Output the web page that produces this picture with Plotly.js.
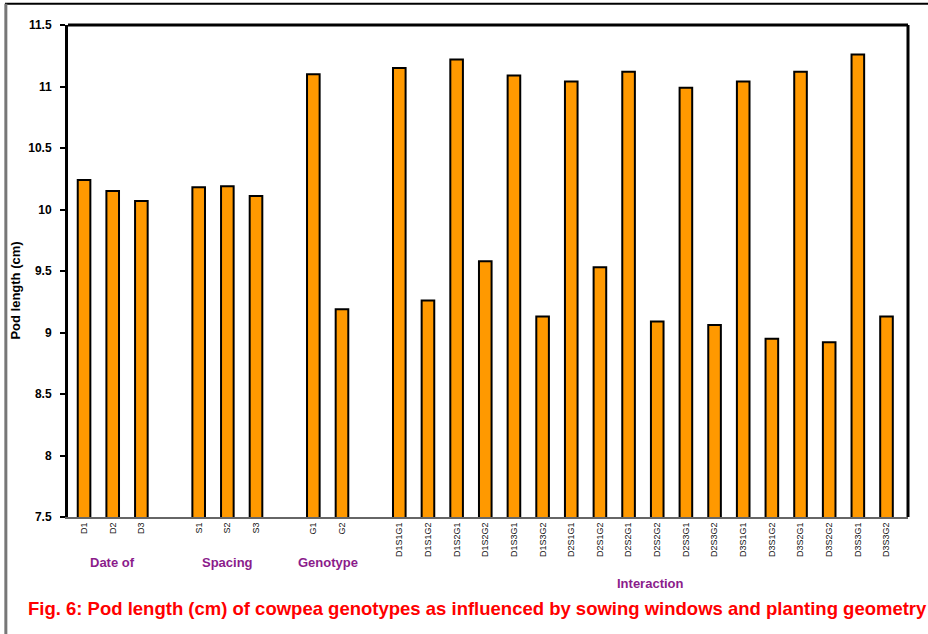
<!DOCTYPE html>
<html>
<head>
<meta charset="utf-8">
<script src="https://cdn.plot.ly/plotly-3.0.1.min.js"></script>
<style>html,body{margin:0;padding:0;background:#fff;}#chart{width:928px;height:634px;}</style>
</head>
<body>
<div id="chart"></div>
<script>
// ---- data ----
var dateLabels = ["D1", "D2", "D3"];
var dateValues = [10.24, 10.15, 10.07];
var spacingLabels = ["S1", "S2", "S3"];
var spacingValues = [10.18, 10.19, 10.11];
var genotypeLabels = ["G1", "G2"];
var genotypeValues = [11.10, 9.19];
var interactionLabels = ["D1S1G1", "D1S1G2", "D1S2G1", "D1S2G2", "D1S3G1", "D1S3G2",
                         "D2S1G1", "D2S1G2", "D2S2G1", "D2S2G2", "D2S3G1", "D2S3G2",
                         "D3S1G1", "D3S1G2", "D3S2G1", "D3S2G2", "D3S3G1", "D3S3G2"];
var interactionValues = [11.15, 9.26, 11.22, 9.58, 11.09, 9.13,
                         11.04, 9.53, 11.12, 9.09, 10.99, 9.06,
                         11.04, 8.95, 11.12, 8.92, 11.26, 9.13];
var groupNames = ["Date of", "Spacing", "Genotype", "Interaction"];
var yTicks = [7.5, 8, 8.5, 9, 9.5, 10, 10.5, 11, 11.5];
var titleText = "Fig. 6: Pod length (cm) of cowpea genotypes as influenced by sowing windows and planting geometry";

// ---- build positions (one empty slot between groups) ----
var groups = [[dateLabels, dateValues], [spacingLabels, spacingValues],
              [genotypeLabels, genotypeValues], [interactionLabels, interactionValues]];
var xs = [], ys = [], labels = [], centers = [];
var pos = 0;
groups.forEach(function (g, gi) {
  var start = pos;
  for (var i = 0; i < g[0].length; i++) {
    xs.push(pos); ys.push(g[1][i]); labels.push(g[0][i]); pos++;
  }
  centers.push((start + pos - 1) / 2);
  pos++;
});

var trace = {
  type: "bar", x: xs, y: ys, width: 0.44,
  marker: {color: "#FF9900", line: {color: "#000000", width: 2}},
  hoverinfo: "x+y"
};

var purple = "#8B1C8B";
var annots = [];
var groupY = [-0.092, -0.092, -0.092, -0.136];
groupNames.forEach(function (n, i) {
  annots.push({text: "<b>" + n + "</b>", x: centers[i] + (i === 3 ? 0.25 : 0), xref: "x",
               y: groupY[i], yref: "paper", showarrow: false, yanchor: "middle",
               font: {family: "Liberation Sans, Arial, sans-serif", size: 13, color: purple}});
});
annots.push({text: "<b>" + titleText + "</b>", x: 0.487, xref: "paper", y: -0.186, yref: "paper",
             showarrow: false, yanchor: "middle",
             font: {family: "Liberation Sans, Arial, sans-serif", size: 18.5, color: "#FF0000"}});
annots.push({text: "<b>Pod length (cm)</b>", x: -0.062, xref: "paper", y: 0.46, yref: "paper",
             showarrow: false, textangle: -90, xanchor: "center", yanchor: "middle",
             font: {family: "Liberation Sans, Arial, sans-serif", size: 13, color: "#000"}});

var layout = {
  width: 928, height: 634,
  margin: {l: 68, r: 20, t: 25, b: 117},
  paper_bgcolor: "#fff", plot_bgcolor: "#fff",
  showlegend: false,
  xaxis: {
    range: [-0.56, 28.75], tickmode: "array", tickvals: xs, ticktext: labels,
    tickangle: -90, showgrid: false, zeroline: false, ticks: "",
    showline: true, linecolor: "#666", linewidth: 2,
    tickfont: {family: "Liberation Sans, Arial, sans-serif", size: 9, color: "#111"}
  },
  yaxis: {
    range: [7.5, 11.5], tickmode: "array", tickvals: yTicks,
    ticktext: yTicks.map(function (v) { return v % 1 === 0 ? String(v) : v.toFixed(1); }),
    showgrid: false, zeroline: false, ticks: "outside", ticklen: 5, tickwidth: 2, tickcolor: "#000",
    ticklabelstandoff: 6,
    showline: true, linecolor: "#000", linewidth: 3,
    tickfont: {family: "Liberation Sans, Arial, sans-serif", size: 12, color: "#000", weight: "bold"}
  },
  annotations: annots,
  shapes: [
    {type: "line", xref: "paper", yref: "paper", x0: 0, x1: 1, y0: 1, y1: 1, line: {color: "#000", width: 3}},
    {type: "line", xref: "paper", yref: "paper", x0: 1, x1: 1, y0: 0, y1: 1, line: {color: "#000", width: 3}},
    {type: "line", xref: "paper", yref: "paper", x0: -0.075, x1: 1.03, y0: 1.043, y1: 1.043, line: {color: "#000", width: 2}},
    {type: "line", xref: "paper", yref: "paper", x0: -0.074, x1: -0.074, y0: 1.043, y1: -0.26, line: {color: "#777", width: 3}}
  ]
};

Plotly.newPlot("chart", [trace], layout, {displayModeBar: false, staticPlot: true});
</script>
</body>
</html>
